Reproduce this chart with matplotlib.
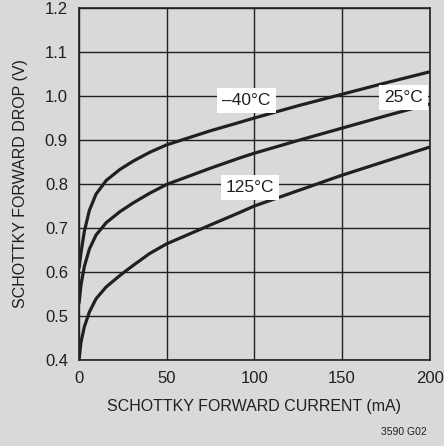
import numpy as np
import matplotlib
matplotlib.use("Agg")
import matplotlib.pyplot as plt

plt.rcParams['font.family'] = ['Liberation Sans', 'DejaVu Sans']

# forward current (mA)
current = [0, 1.1, 3.0, 5.9, 9.7, 15.5, 23.3, 30.9, 40.3, 50, 75, 91.5, 100, 125, 150, 175, 200]
# forward drop (V) at each temperature
drop_m40 = [0.608, 0.643, 0.692, 0.740, 0.777, 0.808, 0.833, 0.852, 0.872, 0.889,
            0.921, 0.940, 0.950, 0.978, 1.004, 1.030, 1.055]
drop_25 = [0.528, 0.570, 0.612, 0.652, 0.684, 0.712, 0.737, 0.757, 0.779, 0.799,
           0.836, 0.859, 0.870, 0.899, 0.927, 0.955, 0.982]
drop_125 = [0.400, 0.440, 0.475, 0.509, 0.539, 0.566, 0.592, 0.615, 0.642, 0.664,
            0.707, 0.735, 0.750, 0.785, 0.820, 0.852, 0.884]

ink = "#231f20"
bg = "#d9d9d9"
fig = plt.figure(figsize=(4.44, 4.46), dpi=100, facecolor=bg)
ax = fig.add_axes([0.178, 0.193, 0.790, 0.789])
ax.set_facecolor(bg)

for ys in (drop_m40, drop_25, drop_125):
    ax.plot(current, ys, color=ink, lw=2.3, solid_capstyle="butt", solid_joinstyle="round")

ax.set_xlim(0, 200)
ax.set_ylim(0.4, 1.2)
ax.set_xticks([0, 50, 100, 150, 200])
ax.set_yticks(np.round(np.arange(0.4, 1.21, 0.1), 1))
ax.set_yticklabels(["0.4", "0.5", "0.6", "0.7", "0.8", "0.9", "1.0", "1.1", "1.2"])
ax.grid(True, color=ink, lw=1.0)
ax.tick_params(length=0, labelsize=12, colors=ink)
ax.tick_params(axis="x", pad=8)
ax.tick_params(axis="y", pad=8)
for s in ax.spines.values():
    s.set_color(ink)
    s.set_linewidth(1.2)

ax.set_xlabel("SCHOTTKY FORWARD CURRENT (mA)", fontsize=11.5, color=ink, labelpad=9)
ax.set_ylabel("SCHOTTKY FORWARD DROP (V)", fontsize=11.5, color=ink, labelpad=12)

box = dict(facecolor="white", edgecolor="none", pad=3.5)
ax.text(95.5, 0.990, "–40°C", fontsize=12.5, ha="center", va="center", bbox=box, color=ink)
ax.text(185, 0.996, "25°C", fontsize=12.5, ha="center", va="center", bbox=box, color=ink)
ax.text(97.4, 0.792, "125°C", fontsize=12.5, ha="center", va="center", bbox=box, color=ink)

fig.text(0.962, 0.031, "3590 G02", fontsize=7.5, ha="right", va="center", color=ink)

fig.savefig("out.png", dpi=100, facecolor=bg)
